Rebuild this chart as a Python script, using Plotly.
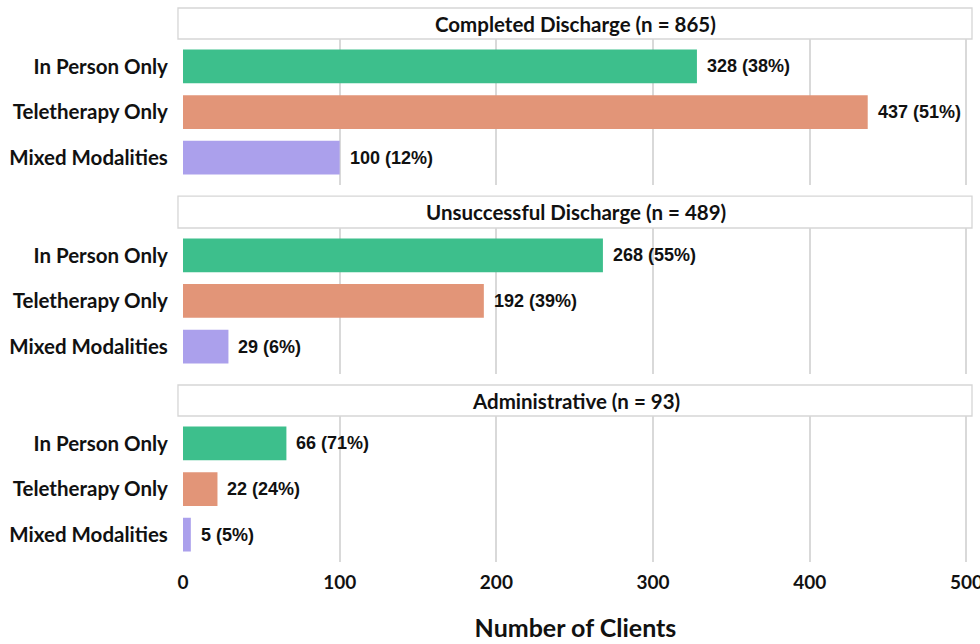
import plotly.graph_objects as go
from plotly.subplots import make_subplots

categories = ["In Person Only", "Teletherapy Only", "Mixed Modalities"]
panels = ["Completed Discharge (n = 865)", "Unsuccessful Discharge (n = 489)", "Administrative (n = 93)"]
completed = [328, 437, 100]
unsuccessful = [268, 192, 29]
administrative = [66, 22, 5]
completed_pct = [38, 51, 12]
unsuccessful_pct = [55, 39, 6]
administrative_pct = [71, 24, 5]
x_ticks = [0, 100, 200, 300, 400, 500]
colors = ["#3DBF8C", "#E29578", "#ABA0EC"]

series = [completed, unsuccessful, administrative]
pcts = [completed_pct, unsuccessful_pct, administrative_pct]

LABEL_FONT = "Lato"

fig = make_subplots(rows=3, cols=1, shared_xaxes=True)

# domains (plot areas) and strips, in paper coords
plot_domains = [[0.6805, 0.9440], [0.3394, 0.6029], [0.0, 0.2635]]
strip_domains = [[0.9440, 1.0], [0.6029, 0.6606], [0.2635, 0.3195]]

for i in range(3):
    fig.add_trace(go.Bar(
        y=categories, x=series[i], orientation="h",
        marker=dict(color=colors, line=dict(width=0)),
        width=0.74, showlegend=False, hoverinfo="x+y"),
        row=i + 1, col=1)
    for c, v, p in zip(categories, series[i], pcts[i]):
        fig.add_annotation(x=v, y=c, xref=f"x{i+1 if i else ''}", yref=f"y{i+1 if i else ''}",
                           text=f"<b>{v} ({p}%)</b>", showarrow=False, xanchor="left", yanchor="middle",
                           xshift=8, font=dict(family="Liberation Sans, Arial", size=18, color="#111111"))
    yname = "yaxis" if i == 0 else f"yaxis{i+1}"
    fig.layout[yname].update(domain=plot_domains[i], categoryorder="array", categoryarray=categories,
                             range=[2.6, -0.6], showgrid=False, zeroline=False,
                             ticks="outside", ticklen=10, tickcolor="rgba(0,0,0,0)",
                             tickfont=dict(family=LABEL_FONT, size=20.5, color="#111111", weight="bold"))
    # strip box
    fig.add_shape(type="rect", xref="paper", yref="paper",
                  x0=-0.0064, x1=1.0051, y0=strip_domains[i][0], y1=strip_domains[i][1],
                  fillcolor="white", line=dict(color="#d6d6d6", width=1.3), layer="above")
    fig.add_annotation(x=0.5, y=(strip_domains[i][0] + strip_domains[i][1]) / 2, xref="paper", yref="paper",
                       text=f"<b>{panels[i]}</b>", showarrow=False, xanchor="center", yanchor="middle",
                       font=dict(family=LABEL_FONT, size=20.5, color="#111111"))

for i in range(3):
    xname = "xaxis" if i == 0 else f"xaxis{i+1}"
    fig.layout[xname].update(range=[0, 501], tickvals=x_ticks, showgrid=True, gridcolor="#d9d9d9",
                             gridwidth=1.6, zeroline=False, showline=False, ticklabeloverflow="allow",
                             ticks="", tickfont=dict(family=LABEL_FONT, size=19, color="#111111", weight="bold"))

fig.update_xaxes(showticklabels=False, row=1, col=1)
fig.update_xaxes(showticklabels=False, row=2, col=1)
fig.update_xaxes(row=3, col=1, ticks="outside", ticklen=3, tickcolor="rgba(0,0,0,0)",
                 title=dict(text="<b>Number of Clients</b>", standoff=27,
                            font=dict(family=LABEL_FONT, size=25, color="#111111")))

fig.update_layout(width=980, height=644, margin=dict(l=183, r=12, t=8, b=82, autoexpand=False),
                  plot_bgcolor="white", paper_bgcolor="white", bargap=0.26)

fig.write_html("out.html", config={"displayModeBar": False},
               post_script="document.body.style.margin='0';document.body.style.overflow='hidden';")
